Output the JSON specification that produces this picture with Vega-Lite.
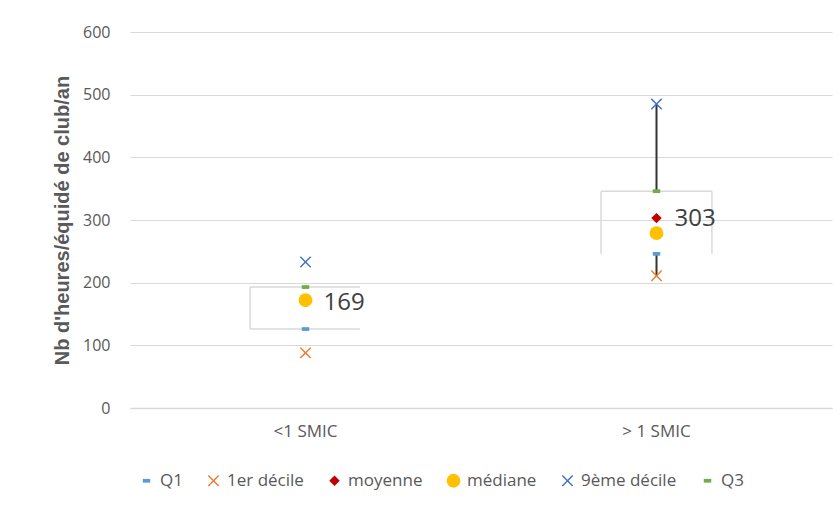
{
  "$schema": "https://vega.github.io/schema/vega-lite/v6.json",
  "width": 702,
  "height": 376,
  "autosize": {"type": "none"},
  "padding": {"left": 130, "top": 32, "right": 8, "bottom": 104},
  "background": "white",
  "config": {
    "font": "Open Sans",
    "view": {"stroke": null},
    "axis": {"labelColor": "#595959", "labelFont": "Open Sans", "titleColor": "#595959"}
  },
  "datasets": {
    "pts": [
      {"cat": "<1 SMIC", "serie": "Q1", "value": 126},
      {"cat": "<1 SMIC", "serie": "1er décile", "value": 88},
      {"cat": "<1 SMIC", "serie": "moyenne", "value": 169},
      {"cat": "<1 SMIC", "serie": "médiane", "value": 172},
      {"cat": "<1 SMIC", "serie": "9ème décile", "value": 233},
      {"cat": "<1 SMIC", "serie": "Q3", "value": 193},
      {"cat": "> 1 SMIC", "serie": "Q1", "value": 246},
      {"cat": "> 1 SMIC", "serie": "1er décile", "value": 211},
      {"cat": "> 1 SMIC", "serie": "moyenne", "value": 303},
      {"cat": "> 1 SMIC", "serie": "médiane", "value": 279},
      {"cat": "> 1 SMIC", "serie": "9ème décile", "value": 485},
      {"cat": "> 1 SMIC", "serie": "Q3", "value": 346}
    ],
    "brackets": [
      {"cat": "<1 SMIC", "seg": "a1", "off": -0.316, "value": 193},
      {"cat": "<1 SMIC", "seg": "a1", "off": 0.31, "value": 193},
      {"cat": "<1 SMIC", "seg": "a2", "off": -0.316, "value": 126},
      {"cat": "<1 SMIC", "seg": "a2", "off": 0.31, "value": 126},
      {"cat": "<1 SMIC", "seg": "a3", "off": -0.316, "value": 193},
      {"cat": "<1 SMIC", "seg": "a3", "off": -0.316, "value": 126},
      {"cat": "> 1 SMIC", "seg": "b1", "off": -0.316, "value": 346},
      {"cat": "> 1 SMIC", "seg": "b1", "off": 0.316, "value": 346},
      {"cat": "> 1 SMIC", "seg": "b2", "off": -0.316, "value": 346},
      {"cat": "> 1 SMIC", "seg": "b2", "off": -0.316, "value": 246},
      {"cat": "> 1 SMIC", "seg": "b3", "off": 0.316, "value": 346},
      {"cat": "> 1 SMIC", "seg": "b3", "off": 0.316, "value": 246}
    ],
    "hilo": [
      {"cat": "> 1 SMIC", "seg": "h1", "off": 0, "value": 485},
      {"cat": "> 1 SMIC", "seg": "h1", "off": 0, "value": 346},
      {"cat": "> 1 SMIC", "seg": "h2", "off": 0, "value": 246},
      {"cat": "> 1 SMIC", "seg": "h2", "off": 0, "value": 211}
    ],
    "labels": [
      {"cat": "<1 SMIC", "value": 169, "txt": "169"},
      {"cat": "> 1 SMIC", "value": 303, "txt": "303"}
    ]
  },
  "encoding": {
    "x": {
      "field": "cat", "type": "nominal", "sort": ["<1 SMIC", "> 1 SMIC"],
      "scale": {"paddingInner": 0, "paddingOuter": 0},
      "axis": {"title": null, "labelAngle": 0, "ticks": false, "domain": true, "domainColor": "#d9d9d9", "domainWidth": 1.5, "labelPadding": 15, "labelFontSize": 17}
    },
    "y": {
      "field": "value", "type": "quantitative",
      "scale": {"domain": [0, 600], "nice": false},
      "axis": {"title": "Nb d'heures/équidé de club/an", "titleFont": "Liberation Sans", "values": [0, 100, 200, 300, 400, 500, 600], "domain": false, "ticks": false, "gridColor": "#d9d9d9", "gridWidth": 1.2, "labelPadding": 20, "labelFontSize": 16, "titleFontSize": 20, "titleFontWeight": "bold", "titlePadding": 10}
    }
  },
  "layer": [
    {
      "data": {"name": "brackets"},
      "mark": {"type": "line", "color": "#d9d9d9", "strokeWidth": 1.5},
      "encoding": {
        "xOffset": {"field": "off", "type": "quantitative", "scale": {"domain": [-1, 1]}},
        "detail": {"field": "seg"}
      }
    },
    {
      "data": {"name": "hilo"},
      "mark": {"type": "line", "color": "#333333", "strokeWidth": 2},
      "encoding": {
        "xOffset": {"field": "off", "type": "quantitative", "scale": {"domain": [-1, 1]}},
        "detail": {"field": "seg"}
      }
    },
    {
      "data": {"name": "pts"},
      "mark": {"type": "point", "filled": true, "opacity": 1},
      "encoding": {
        "color": {
          "field": "serie", "type": "nominal",
          "scale": {"domain": ["Q1", "1er décile", "moyenne", "médiane", "9ème décile", "Q3"], "range": ["#5b9bd5", "#ed7d31", "#c00000", "#ffc000", "#4472c4", "#70ad47"]},
          "legend": {"title": null, "orient": "none", "direction": "horizontal", "columns": 6, "legendX": 8, "legendY": 440, "labelFontSize": 17, "labelColor": "#595959", "columnPadding": 22, "symbolSize": 90, "labelOffset": 5, "labelFont": "Open Sans"}
        },
        "shape": {
          "field": "serie", "type": "nominal",
          "scale": {"domain": ["Q1", "1er décile", "moyenne", "médiane", "9ème décile", "Q3"], "range": ["M-1,-0.5L1,-0.5L1,0.5L-1,0.5Z", "M-1,-0.82L-0.82,-1L0,-0.18L0.82,-1L1,-0.82L0.18,0L1,0.82L0.82,1L0,0.18L-0.82,1L-1,0.82L-0.18,0Z", "diamond", "circle", "M-1,-0.82L-0.82,-1L0,-0.18L0.82,-1L1,-0.82L0.18,0L1,0.82L0.82,1L0,0.18L-0.82,1L-1,0.82L-0.18,0Z", "M-1,-0.5L1,-0.5L1,0.5L-1,0.5Z"]}
        },
        "size": {
          "field": "serie", "type": "nominal",
          "scale": {"type": "ordinal", "domain": ["Q1", "1er décile", "moyenne", "médiane", "9ème décile", "Q3"], "range": [56, 130, 110, 190, 130, 56]},
          "legend": null
        },
        "order": {"field": "serie", "sort": "ascending"}
      }
    },
    {
      "data": {"name": "labels"},
      "mark": {"type": "text", "align": "left", "dx": 18, "dy": 1, "fontSize": 24, "color": "#404040", "font": "Open Sans"},
      "encoding": {"text": {"field": "txt"}}
    }
  ]
}
